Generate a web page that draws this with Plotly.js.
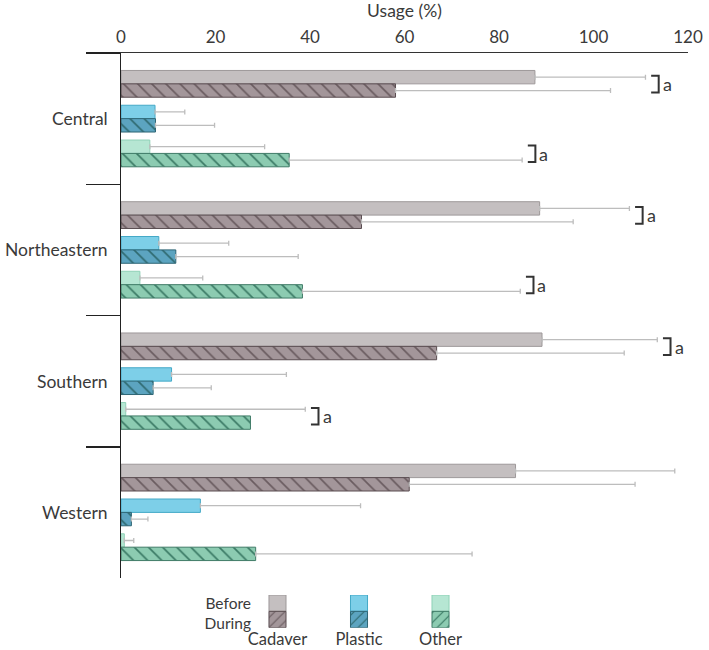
<!DOCTYPE html>
<html>
<head>
<meta charset="utf-8">
<script src="https://cdn.plot.ly/plotly-3.0.1.min.js"></script>
<style>html,body{margin:0;padding:0;background:#fff;}#chart{width:709px;height:650px;}</style>
</head>
<body>
<div id="chart"></div>
<script>
// ---- data ----
const regions = ['Central', 'Northeastern', 'Southern', 'Western'];
const cadaverBefore   = [87.6, 88.6, 89.1, 83.5];
const cadaverBeforeSD = [23.4, 19.0, 24.4, 33.7];
const cadaverDuring   = [58.1, 50.9, 66.8, 61.0];
const cadaverDuringSD = [45.5, 44.8, 39.7, 47.8];
const plasticBefore   = [7.2, 8.0, 10.7, 16.8];
const plasticBeforeSD = [6.3, 14.8, 24.3, 33.9];
const plasticDuring   = [7.3, 11.6, 6.8, 2.2];
const plasticDuringSD = [12.5, 25.9, 12.3, 3.5];
const otherBefore     = [6.1, 4.0, 1.0, 0.7];
const otherBeforeSD   = [24.3, 13.3, 38.0, 2.0];
const otherDuring     = [35.6, 38.4, 27.4, 28.5];
const otherDuringSD   = [49.3, 46.1, null, 45.8];
const sigCadaver = ['a', 'a', 'a', ''];
const sigPlastic = ['', '', '', ''];
const sigOther   = ['a', 'a', 'a', ''];
const materials = ['Cadaver', 'Plastic', 'Other'];
const periods = ['Before', 'During'];
const xTicks = [0, 20, 40, 60, 80, 100, 120];

// ---- styles ----
const FONT = 'Lato, "Open Sans", sans-serif';
const TXT = '#3a3a3a';
const style = {
  Cadaver: {before: '#c4bfc0', beforeLine: '#9d9899', during: '#a3969a', hatch: '#6a5c60', duringLine: '#5a4d51'},
  Plastic: {before: '#7dcfe8', beforeLine: '#45a9c7', during: '#5ca4c0', hatch: '#2f6a70', duringLine: '#2e6675'},
  Other:   {before: '#b6e6d3', beforeLine: '#8fd1b7', during: '#8ccbb1', hatch: '#3b7a65', duringLine: '#3f7b67'}
};
const BAR_W = 0.102, PAIR_SP = 0.265;
function centerOf(k) { // k: 0..5 series index
  const pair = Math.floor(k / 2) - 1;
  return pair * PAIR_SP + (k % 2 === 0 ? -BAR_W / 2 : BAR_W / 2);
}
function markerFor(mat, per, hatchShape, hatchSize) {
  const st = style[mat];
  return per === 'Before'
    ? {color: st.before, line: {color: st.beforeLine, width: 1}}
    : {color: st.during, line: {color: st.duringLine, width: 1},
       pattern: {shape: hatchShape, size: hatchSize, solidity: 0.17, fgcolor: st.hatch, bgcolor: st.during, fillmode: 'replace'}};
}

const seriesDefs = [
  {mat: 'Cadaver', per: 'Before', v: cadaverBefore, sd: cadaverBeforeSD},
  {mat: 'Cadaver', per: 'During', v: cadaverDuring, sd: cadaverDuringSD},
  {mat: 'Plastic', per: 'Before', v: plasticBefore, sd: plasticBeforeSD},
  {mat: 'Plastic', per: 'During', v: plasticDuring, sd: plasticDuringSD},
  {mat: 'Other',   per: 'Before', v: otherBefore,   sd: otherBeforeSD},
  {mat: 'Other',   per: 'During', v: otherDuring,   sd: otherDuringSD}
];

const traces = seriesDefs.map((s, k) => ({
  type: 'bar', orientation: 'h', name: s.mat + ' ' + s.per,
  y: regions, x: s.v, xaxis: 'x', yaxis: 'y',
  width: BAR_W, offset: centerOf(k) - BAR_W / 2,
  marker: markerFor(s.mat, s.per, '\\', 10),
  error_x: {type: 'data', symmetric: false, array: s.sd.map(v => v == null ? NaN : v),
            color: '#bdbdbd', thickness: 1.3, width: 2.5},
  showlegend: false, hoverinfo: 'x+y+name'
}));

// legend swatches drawn as a small bar subplot (one unit per period, stacked by base)
materials.forEach(m => {
  periods.forEach((p, j) => {
    traces.push({
      type: 'bar', x: [m], y: [1], base: [j === 0 ? 1 : 0],
      xaxis: 'x2', yaxis: 'y2', width: 0.209, showlegend: false, hoverinfo: 'skip',
      marker: markerFor(m, p, '/', 7)
    });
  });
});

// significance brackets
const shapes = [], annotations = [];
function addBracket(i, k0, k1, label) {
  if (!label) return;
  const a = seriesDefs[k0], b = seriesDefs[k1];
  const endA = a.v[i] + (a.sd[i] || 0), endB = b.v[i] + (b.sd[i] || 0);
  const m = Math.max(endA, endB);
  const x0 = m + 1.2, x1 = m + 2.8;
  const y0 = i + centerOf(k0) - 0.01, y1 = i + centerOf(k1) + 0.015;
  shapes.push({type: 'path', xref: 'x', yref: 'y',
    path: `M ${x0},${y0} L ${x1},${y0} L ${x1},${y1} L ${x0},${y1}`,
    line: {color: '#333', width: 2}});
  annotations.push({xref: 'x', yref: 'y', x: x1, y: (y0 + y1) / 2, text: label, showarrow: false,
    xanchor: 'left', yanchor: 'middle', xshift: 2, font: {family: FONT, size: 18, color: TXT}});
}
regions.forEach((r, i) => {
  addBracket(i, 0, 1, sigCadaver[i]);
  addBracket(i, 2, 3, sigPlastic[i]);
  addBracket(i, 4, 5, sigOther[i]);
  // category label, centred in its band, right of the boundary ticks
  annotations.push({xref: 'paper', yref: 'y', x: 0, y: r, text: r, showarrow: false,
    xanchor: 'right', yanchor: 'middle', xshift: -11, font: {family: FONT, size: 17.5, color: TXT}});
});

const layout = {
  width: 709, height: 650,
  margin: {l: 121, r: 21, t: 53, b: 2, pad: 0},
  paper_bgcolor: '#fff', plot_bgcolor: 'rgba(0,0,0,0)',
  barmode: 'overlay',
  font: {family: FONT, size: 16, color: TXT},
  xaxis: {anchor: 'y', side: 'top', domain: [0, 1], range: [0, 120], tickvals: xTicks,
          ticks: '', showgrid: false, zeroline: false, showline: true, linecolor: '#333', linewidth: 1.5,
          tickfont: {family: FONT, size: 17, color: TXT}, ticklabelstandoff: 2,
          title: {text: 'Usage (%)', font: {family: FONT, size: 17.5, color: TXT}, standoff: 3}},
  yaxis: {anchor: 'x', domain: [0.1176, 1], type: 'category', categoryorder: 'array', categoryarray: regions,
          range: [3.5, -0.5], tickson: 'boundaries', ticks: 'outside', ticklen: 34, tickwidth: 1.5, tickcolor: '#222',
          showticklabels: false, showline: true, linecolor: '#222', linewidth: 1.5, showgrid: false, zeroline: false},
  xaxis2: {anchor: 'y2', domain: [0.2310, 0.6354], type: 'category', categoryorder: 'array', categoryarray: materials,
           range: [-0.313, 2.5], ticks: '', showline: false, showgrid: false, zeroline: false,
           tickfont: {family: FONT, size: 16.5, color: TXT}, ticklabelstandoff: 0},
  yaxis2: {anchor: 'x2', domain: [0.0341, 0.0891], range: [0, 2], tickvals: [1.47, 0.27], ticktext: periods,
           ticks: '', showline: false, showgrid: false, zeroline: false,
           tickfont: {family: FONT, size: 15.5, color: TXT}},
  shapes: shapes, annotations: annotations
};

Plotly.newPlot('chart', traces, layout, {displayModeBar: false, staticPlot: true});
</script>
</body>
</html>
